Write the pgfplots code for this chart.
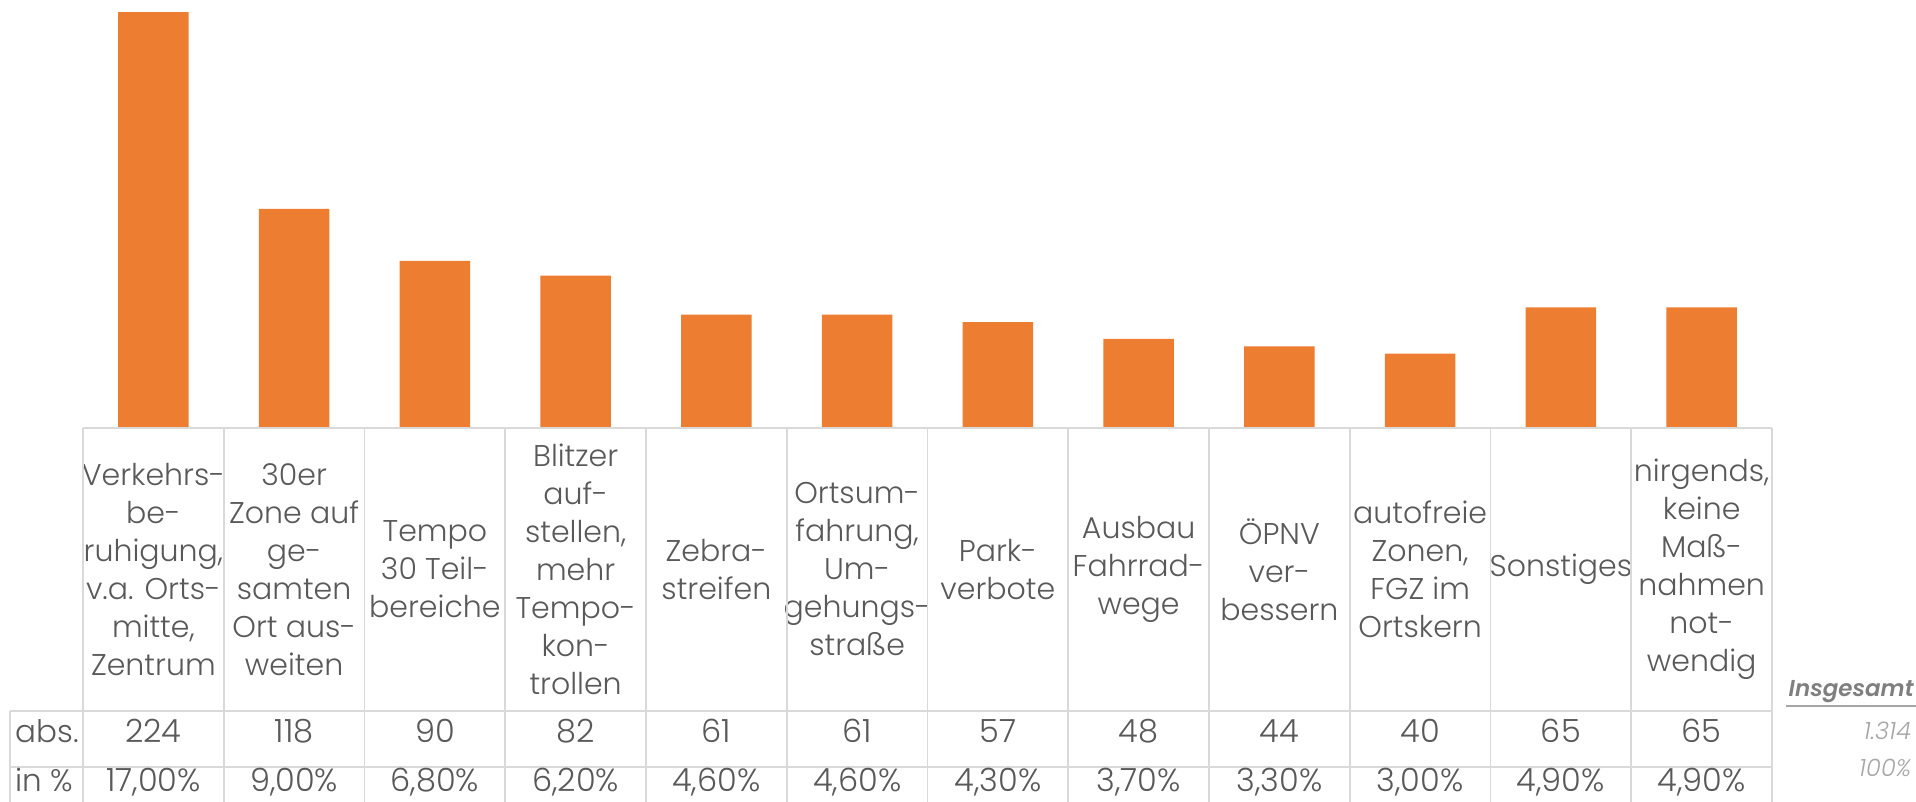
\documentclass[border=0pt]{standalone}
\usepackage{fontspec}
\setmainfont{Poppins}[UprightFont=* Light, ItalicFont=* Light Italic, BoldFont=* SemiBold, BoldItalicFont=* SemiBold Italic]
\usepackage{pgfplots}
\usepackage{pgfplotstable}
\pgfplotsset{compat=1.18}

\definecolor{barOrange}{HTML}{ED7D31}
\definecolor{txtGray}{HTML}{595959}
\definecolor{lineGray}{HTML}{D9D9D9}
\definecolor{totGray}{HTML}{7F7F7F}
\definecolor{totLight}{HTML}{A6A6A6}

% abs. Nennungen und Anteil in %
\pgfplotstableread{
x abs pct
0 224 17,00
1 118 9,00
2 90 6,80
3 82 6,20
4 61 4,60
5 61 4,60
6 57 4,30
7 48 3,70
8 44 3,30
9 40 3,00
10 65 4,90
11 65 4,90
}\massnahmen

\begin{document}
\begin{tikzpicture}
\useasboundingbox (-41.5pt,-187pt) rectangle (916.5pt,214pt);
\begin{axis}[
  at={(0pt,0pt)}, anchor=south west,
  scale only axis, width=844.5pt, height=214pt,
  xmin=-0.5, xmax=11.5, ymin=0, ymax=230.5,
  clip=false,
  axis line style={draw=none},
  tick style={draw=none},
  ytick=\empty,
  xtick={0,...,11},
  xticklabels={
    {Verkehrs-\\be-\\ruhigung,\\v.a. Orts-\\mitte,\\Zentrum},
    {30er\\Zone auf\\ge-\\samten\\Ort aus-\\weiten},
    {Tempo\\30 Teil-\\bereiche},
    {Blitzer\\auf-\\stellen,\\mehr\\Tempo-\\kon-\\trollen},
    {Zebra-\\streifen},
    {Ortsum-\\fahrung,\\Um-\\gehungs-\\straße},
    {Park-\\verbote},
    {Ausbau\\Fahrrad-\\wege},
    {ÖPNV\\ver-\\bessern},
    {autofreie\\Zonen,\\FGZ im\\Ortskern},
    {Sonstiges},
    {nirgends,\\keine\\Maß-\\nahmen\\not-\\wendig}},
  xticklabel style={anchor=center, yshift=-70.75pt, align=center, text=txtGray,
    font=\fontsize{15}{19}\selectfont, inner sep=0pt},
]
\addplot[ybar, bar width=0.5, fill=barOrange, draw=none] table[x=x, y=abs] {\massnahmen};

% Tabellenzeilen
\addplot[draw=none, mark=none, forget plot,
  nodes near coords, point meta=explicit symbolic,
  nodes near coords align={anchor=base},
  every node near coord/.append style={anchor=base, text=txtGray,
    font=\fontsize{16}{19}\selectfont, inner sep=0pt}]
  table[x=x, y expr=-169.6, meta=abs] {\massnahmen};
\addplot[draw=none, mark=none, forget plot,
  nodes near coords={\pgfplotspointmeta\%}, point meta=explicit symbolic,
  nodes near coords align={anchor=base},
  every node near coord/.append style={anchor=base, text=txtGray,
    font=\fontsize{16}{19}\selectfont, inner sep=0pt}]
  table[x=x, y expr=-196.0, meta=pct] {\massnahmen};

% Gitter der Tabelle
\draw[lineGray, line width=0.9pt] (axis cs:-0.5,0) -- (axis cs:11.5,0);
\draw[lineGray, line width=0.9pt] (axis cs:-1.019,-152.4) -- (axis cs:11.5,-152.4);
\draw[lineGray, line width=0.9pt] (axis cs:-1.019,-182.5) -- (axis cs:11.5,-182.5);
\draw[lineGray, line width=0.9pt] (axis cs:-1.019,-152.4) -- (axis cs:-1.019,-201.4);
\pgfplotsinvokeforeach{-0.5,0.5,1.5,2.5,3.5,4.5,5.5,6.5,7.5,8.5,9.5,10.5,11.5}{
  \draw[lineGray, line width=0.9pt] (axis cs:#1,0) -- (axis cs:#1,-201.4);
}

\node[anchor=base west, inner sep=0pt, text=txtGray, font=\fontsize{15.5}{19}\selectfont]
  at (axis cs:-0.983,-169.6) {abs.};
\node[anchor=base west, inner sep=0pt, text=txtGray, font=\fontsize{15.5}{19}\selectfont]
  at (axis cs:-0.983,-196.0) {in \%};

% Insgesamt
\node[anchor=base east, inner sep=0pt, text=totGray, font=\fontsize{11.5}{13}\selectfont\bfseries\itshape]
  at (axis cs:12.51,-144.8) {Insgesamt};
\draw[totLight, line width=1pt] (axis cs:11.60,-149.7) -- (axis cs:12.52,-149.7);
\node[anchor=base east, inner sep=0pt, text=totLight, font=\fontsize{12}{13}\selectfont\itshape]
  at (axis cs:12.49,-168.0) {1.314};
\node[anchor=base east, inner sep=0pt, text=totLight, font=\fontsize{12}{13}\selectfont\itshape]
  at (axis cs:12.49,-187.9) {100\%};
\end{axis}
\end{tikzpicture}
\end{document}
